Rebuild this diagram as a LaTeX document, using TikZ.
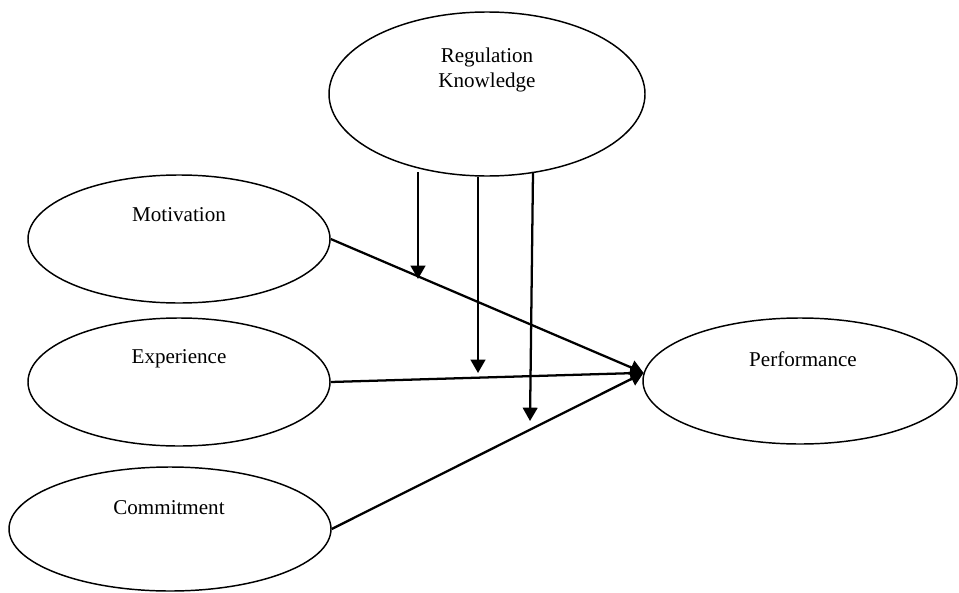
\documentclass[tikz,border=0pt]{standalone}
\usepackage{fontspec}
\setmainfont{Liberation Serif}
\usetikzlibrary{shapes.geometric,arrows.meta}
\begin{document}
\begin{tikzpicture}[x=0.75pt,y=-0.75pt,
  oval/.style={draw,ellipse,line width=1.1pt,inner sep=0pt},
  lbl/.style={font=\fontsize{15.8}{18.75}\selectfont,inner sep=0pt,align=center},
  link/.style={line width=1.7pt,-{Triangle[length=10pt,width=11pt]}}]
\useasboundingbox (0,0) rectangle (959,592);
% ellipses
\node[oval,minimum width=316*0.75pt,minimum height=164*0.75pt] (reg) at (487,94) {};
\node[oval,minimum width=302*0.75pt,minimum height=128*0.75pt] (mot) at (179,239) {};
\node[oval,minimum width=302*0.75pt,minimum height=128*0.75pt] (exp) at (179,382) {};
\node[oval,minimum width=322*0.75pt,minimum height=124*0.75pt] (com) at (170,529) {};
\node[oval,minimum width=314*0.75pt,minimum height=126*0.75pt] (perf) at (800,381) {};
% labels
\node[lbl] (regT) at (487,70) {Regulation\\Knowledge};
\node[lbl] (motT) at (179,215) {Motivation};
\node[lbl] (expT) at (179,359) {Experience};
\node[lbl] (comT) at (169,508) {Commitment};
\node[lbl] (perfT) at (803,359) {Performance};
% connectors
\draw[link] (mot.east) -- (perf.177);
\draw[link] (exp.east) -- (perf.177);
\draw[link] (com.east) -- (perf.177);
% moderating arrows
\coordinate (m1s) at (418,172);
\coordinate (m1e) at (418,279);
\coordinate (m2s) at (478,177);
\coordinate (m2e) at (478,373);
\coordinate (m3s) at (533,172);
\coordinate (m3e) at (530,421);
\draw[link] (m1s) -- (m1e);
\draw[link] (m2s) -- (m2e);
\draw[link] (m3s) -- (m3e);
\end{tikzpicture}
\end{document}
